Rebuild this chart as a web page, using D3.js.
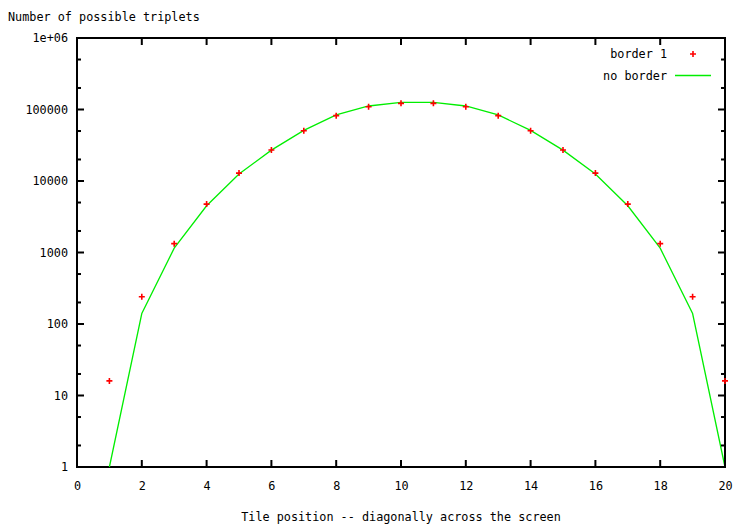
<!DOCTYPE html>
<html>
<head>
<meta charset="utf-8">
<script src="https://cdn.jsdelivr.net/npm/d3@7"></script>
<style>
  body { margin: 0; background: #fff; }
  svg text { font-family: 'DejaVu Sans Mono', monospace; font-size: 11.8px; fill: #000; }
  .axis .domain { display: none; }
</style>
</head>
<body>
<div id="draw"></div>
<script>
// tile position along the diagonal
const positions = d3.range(1, 21)
// border 1 series (points)
const border1 = [16, 240, 1330, 4750, 12900, 27200, 50500, 82000, 109000, 122000,
  122000, 109000, 82000, 50500, 27200, 12900, 4750, 1330, 240, 16]
// no border series (line)
const noBorder = [1, 140, 1150, 4500, 12500, 27000, 51000, 84000, 112000, 126000,
  126000, 112000, 84000, 51000, 27000, 12500, 4500, 1150, 140, 1]
const xTicks = [0, 2, 4, 6, 8, 10, 12, 14, 16, 18, 20]
const yTicks = [1, 10, 100, 1000, 10000, 100000, 1000000]
const yTickLabels = ['1', '10', '100', '1000', '10000', '100000', '1e+06']
const yMinor = [2, 5, 20, 50, 200, 500, 2000, 5000, 20000, 50000, 200000, 500000]

const width = 738
const height = 527
const plotLeft = 77
const plotRight = 725
const plotTop = 38
const plotBottom = 467

const svg = d3.select('#draw')
  .append('svg')
  .attr('width', width)
  .attr('height', height)

const x = d3.scaleLinear().domain([0, 20]).range([plotLeft, plotRight])
const y = d3.scaleLog().domain([1, 1e6]).range([plotBottom, plotTop])

// tick labels from d3 axes
svg.append('g')
  .attr('class', 'axis')
  .attr('transform', 'translate(0,' + plotBottom + ')')
  .call(d3.axisBottom(x).tickValues(xTicks).tickSize(0).tickPadding(15).tickFormat(d3.format('d')))

svg.append('g')
  .attr('class', 'axis')
  .attr('transform', 'translate(' + plotLeft + ',0)')
  .call(d3.axisLeft(y).tickValues(yTicks).tickSize(0).tickPadding(9)
    .tickFormat(function (d, i) { return yTickLabels[i] }))

svg.selectAll('.axis text')
  .style('font-family', "'DejaVu Sans Mono', monospace")
  .style('font-size', '11.8px')

// frame
svg.append('rect')
  .attr('x', plotLeft)
  .attr('y', plotTop)
  .attr('width', plotRight - plotLeft)
  .attr('height', plotBottom - plotTop)
  .attr('fill', 'none')
  .attr('stroke', '#000')
  .attr('stroke-width', 2)

// no border line
const line = d3.line()
  .x(function (d, i) { return x(positions[i]) })
  .y(function (d) { return y(d) })

svg.append('path')
  .datum(noBorder)
  .attr('fill', 'none')
  .attr('stroke', '#00ee00')
  .attr('stroke-width', 1.3)
  .attr('d', line)

// border 1 points, small "+" markers
const plus = 'M-3,0H3M0,-3V3'
svg.selectAll('.pt')
  .data(border1)
  .enter().append('path')
  .attr('class', 'pt')
  .attr('transform', function (d, i) { return 'translate(' + x(positions[i]) + ',' + y(d) + ')' })
  .attr('d', plus)
  .attr('fill', 'none')
  .attr('stroke', '#ff0000')
  .attr('stroke-width', 1.6)

// tick marks pointing inward on all four sides, drawn as small filled rects
const tickG = svg.append('g').attr('fill', '#000')

tickG.selectAll('.tx')
  .data(xTicks.concat(xTicks))
  .enter().append('rect')
  .attr('class', 'tx')
  .attr('x', function (d) { return x(d) - 1 })
  .attr('y', function (d, i) { return i < xTicks.length ? plotBottom - 7 : plotTop })
  .attr('width', 2)
  .attr('height', 7)

const yAll = yTicks.map(function (v) { return { v: v, len: 7 } })
  .concat(yMinor.map(function (v) { return { v: v, len: 4 } }))

tickG.selectAll('.tyl')
  .data(yAll)
  .enter().append('rect')
  .attr('class', 'tyl')
  .attr('x', plotLeft)
  .attr('y', function (d) { return y(d.v) - 1 })
  .attr('width', function (d) { return d.len })
  .attr('height', 2)

tickG.selectAll('.tyr')
  .data(yAll)
  .enter().append('rect')
  .attr('class', 'tyr')
  .attr('x', function (d) { return plotRight - d.len })
  .attr('y', function (d) { return y(d.v) - 1 })
  .attr('width', function (d) { return d.len })
  .attr('height', 2)

// titles
svg.append('text')
  .attr('x', 8)
  .attr('y', 21)
  .text('Number of possible triplets')

svg.append('text')
  .attr('x', (plotLeft + plotRight) / 2)
  .attr('y', 521)
  .attr('text-anchor', 'middle')
  .text('Tile position -- diagonally across the screen')

// legend
svg.append('text')
  .attr('x', 667)
  .attr('y', 58)
  .attr('text-anchor', 'end')
  .text('border 1')
svg.append('path')
  .attr('transform', 'translate(693,54)')
  .attr('d', plus)
  .attr('fill', 'none')
  .attr('stroke', '#ff0000')
  .attr('stroke-width', 1.6)
svg.append('text')
  .attr('x', 667)
  .attr('y', 80)
  .attr('text-anchor', 'end')
  .text('no border')
svg.append('line')
  .attr('x1', 675)
  .attr('x2', 711)
  .attr('y1', 75.5)
  .attr('y2', 75.5)
  .attr('stroke', '#00ee00')
  .attr('stroke-width', 1.3)
</script>
</body>
</html>
